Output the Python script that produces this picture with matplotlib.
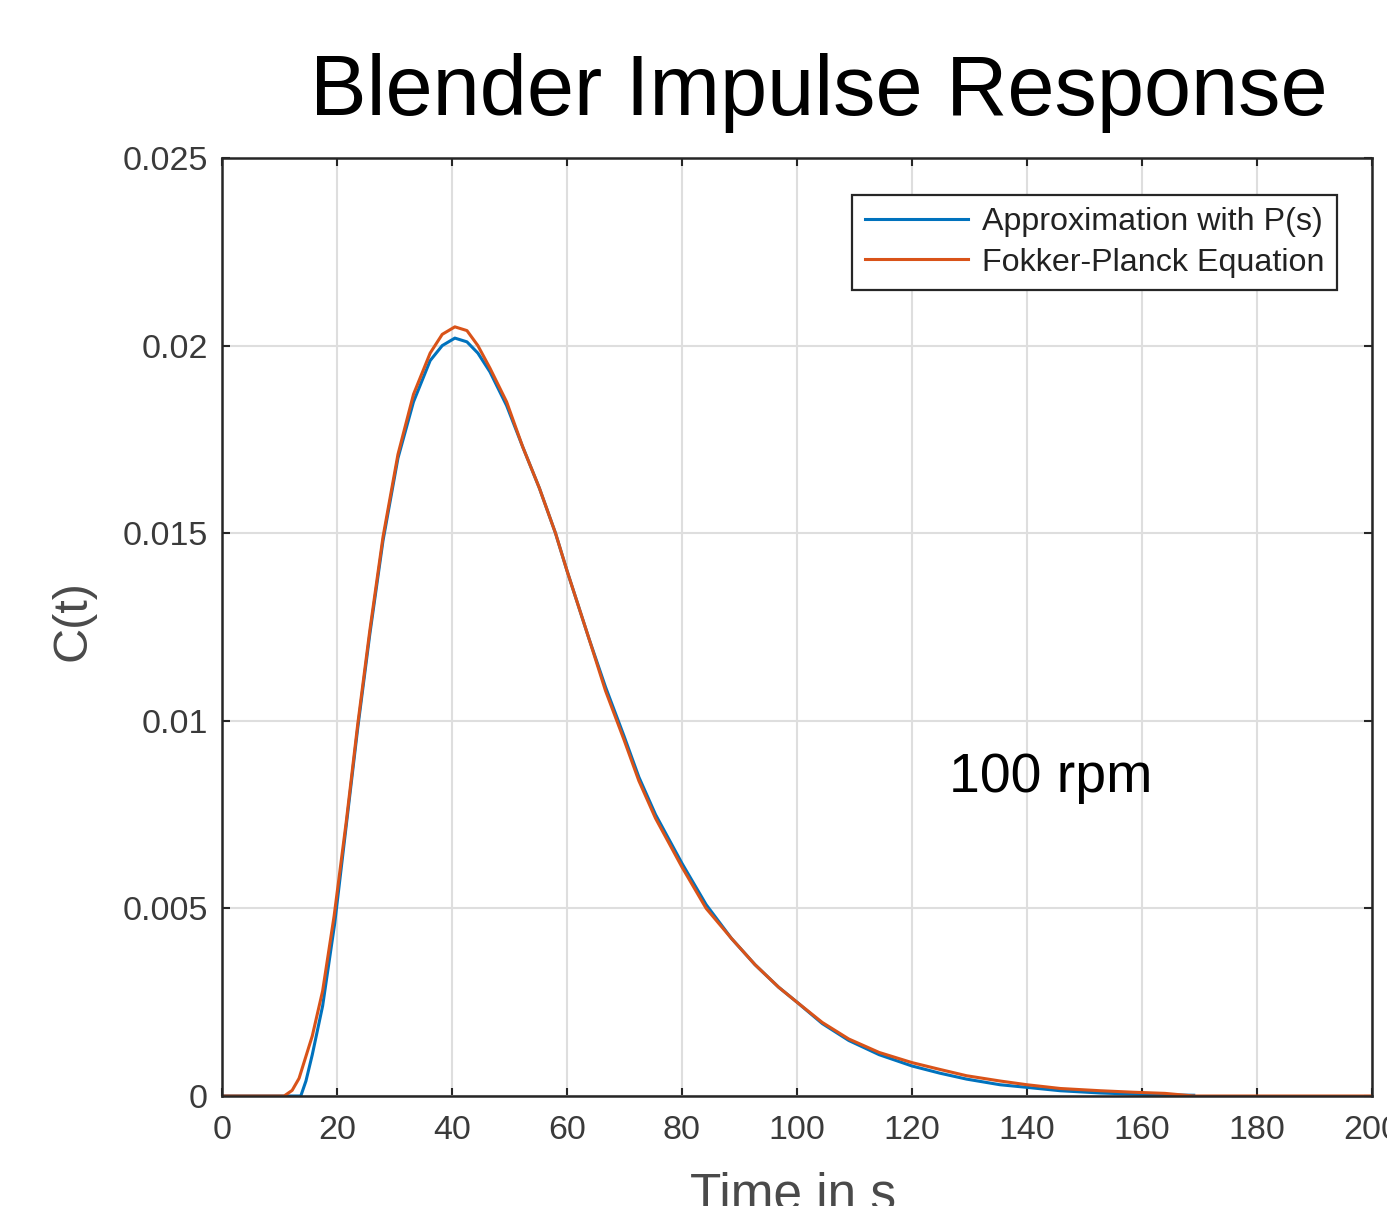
import matplotlib
matplotlib.use("Agg")
import matplotlib.pyplot as plt

plt.rcParams['font.family'] = ['Liberation Sans', 'DejaVu Sans']

# ---- data ----
t_approx = [0, 13.7, 14.6, 15.7, 17.5, 19.6, 21.6, 23.6, 25.7, 28.0, 30.6, 33.3, 36.2, 38.3,
            40.5, 42.6, 44.5, 46.6, 49.5, 52.3, 55.2, 58.0, 60.0, 63.8, 66.7, 69.9, 72.5,
            75.4, 80.0, 84.2, 88.6, 92.7, 96.8, 100.0, 104.4, 109.0, 114.3, 120.0, 124.8,
            129.5, 135.3, 140.0, 145.8, 152.8, 158.6, 164.0, 169.0]
c_approx = [0, 0, 0.0004, 0.0011, 0.0024, 0.0046, 0.0072, 0.0098, 0.0123, 0.0148, 0.0170,
            0.0185, 0.0196, 0.0200, 0.0202, 0.0201, 0.0198, 0.0193, 0.0184, 0.0173, 0.0162,
            0.0150, 0.0140, 0.0122, 0.0109, 0.0096, 0.0085, 0.0075, 0.0062, 0.0051, 0.0042,
            0.0035, 0.0029, 0.0025, 0.00193, 0.00148, 0.00110, 0.00080, 0.00061, 0.00045,
            0.00030, 0.00023, 0.00014, 0.00008, 0.00005, 0.00003, 0.00002]

t_fp = [0, 10.8, 12.2, 13.4, 15.7, 17.5, 19.5, 21.6, 23.6, 25.7, 28.0, 30.6, 33.3, 36.2,
        38.3, 40.5, 42.6, 44.5, 46.6, 49.5, 52.3, 55.2, 58.0, 60.0, 63.8, 66.7, 69.9, 72.5,
        75.4, 80.0, 84.2, 88.6, 92.7, 96.8, 100.0, 104.4, 109.0, 114.3, 120.0, 124.8,
        129.5, 135.3, 140.0, 145.8, 152.8, 158.6, 164.0, 169.0, 200.0]
c_fp = [0, 0, 0.00015, 0.00047, 0.0016, 0.0028, 0.0048, 0.0073, 0.0099, 0.0124, 0.0149,
        0.0171, 0.0187, 0.0198, 0.0203, 0.0205, 0.0204, 0.0200, 0.0194, 0.0185, 0.0173,
        0.0162, 0.0150, 0.0140, 0.0122, 0.0108, 0.0095, 0.0084, 0.0074, 0.0061, 0.0050,
        0.0042, 0.0035, 0.0029, 0.0025, 0.00196, 0.00152, 0.00116, 0.00089, 0.00071,
        0.00054, 0.00040, 0.00030, 0.00020, 0.00014, 0.00010, 0.00007, 0.0, 0.0]

x_ticks = [0, 20, 40, 60, 80, 100, 120, 140, 160, 180, 200]
x_tick_labels = ['0', '20', '40', '60', '80', '100', '120', '140', '160', '180', '200']
y_ticks = [0, 0.005, 0.01, 0.015, 0.02, 0.025]
y_tick_labels = ['0', '0.005', '0.01', '0.015', '0.02', '0.025']

series_labels = ['Approximation with P(s)', 'Fokker-Planck Equation']
title_text = 'Blender Impulse Response'
annotation_text = '100 rpm'

# ---- figure ----
W, H = 1387, 1206
fig = plt.figure(figsize=(W / 100, H / 100), dpi=100)
ax = fig.add_axes([222 / W, 1 - 1096 / H, (1372 - 222) / W, (1096 - 158) / H])

blue = '#0072BD'
orange = '#D95319'
axcol = '#262626'
txtcol = '#3a3a3a'

ax.plot(t_approx, c_approx, color=blue, lw=2.2, label=series_labels[0])
ax.plot(t_fp, c_fp, color=orange, lw=2.2, label=series_labels[1])

ax.set_xlim(0, 200)
ax.set_ylim(0, 0.025)
ax.set_xticks(x_ticks)
ax.set_xticklabels(x_tick_labels)
ax.set_yticks(y_ticks)
ax.set_yticklabels(y_tick_labels)

ax.grid(True, color='#dedede', lw=1.5)
ax.set_axisbelow(True)
for s in ax.spines.values():
    s.set_color(axcol)
    s.set_linewidth(1.8)

ax.tick_params(direction='in', length=6, width=1.5, top=True, right=True,
               color=axcol, labelcolor=txtcol, labelsize=24.5)
ax.tick_params(axis='x', pad=14)
ax.tick_params(axis='y', pad=10)

ax.set_xlabel('Time in s', fontsize=37, color='#4a4a4a')
ax.xaxis.set_label_coords(0.4965, -0.080)
ax.set_ylabel('C(t)', fontsize=35, color='#4a4a4a')
ax.yaxis.set_label_coords(-0.110, 0.507)

fig.text(819 / W, 1 - 115 / H, title_text, fontsize=61, color='black',
         ha='center', va='baseline')

ax.text(126.5, 0.0081, annotation_text, fontsize=40, color='black',
        ha='left', va='baseline')

leg = ax.legend(loc='upper right', bbox_to_anchor=((1337 - 222) / 1150, (1096 - 195) / 938),
                borderaxespad=0, fontsize=23.2, handlelength=3.2, handletextpad=0.45,
                labelspacing=0.32, borderpad=0.38, fancybox=False, framealpha=1,
                edgecolor=axcol)
leg.get_frame().set_linewidth(1.6)
for t in leg.get_texts():
    t.set_color('#222222')

fig.savefig('out.png', dpi=100)
